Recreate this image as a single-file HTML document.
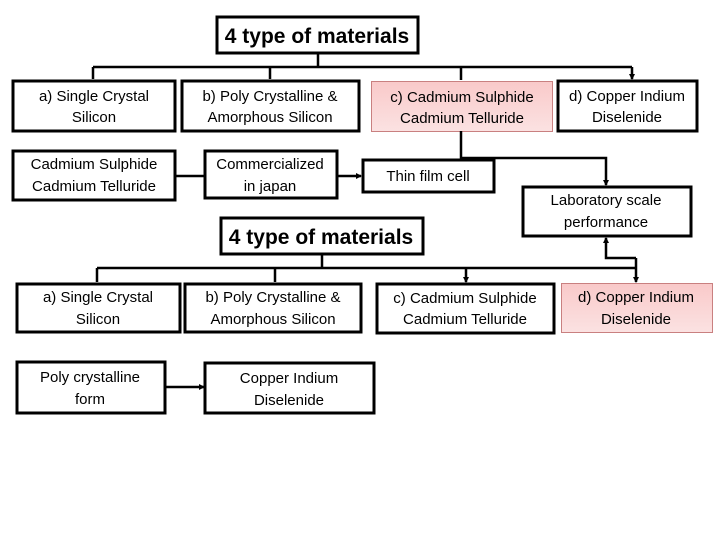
<!DOCTYPE html>
<html><head><meta charset="utf-8"><style>
html,body{margin:0;padding:0;background:#fff;}
svg text{font-family:"Liberation Sans Narrow","Liberation Sans",sans-serif;font-size:15px;fill:#000;text-anchor:middle;}
.t{font-size:21px;font-weight:bold;}
</style></head><body>
<svg width="720" height="540" viewBox="0 0 720 540" xmlns="http://www.w3.org/2000/svg">
<defs>
<linearGradient id="pk" x1="0" y1="0" x2="0" y2="1"><stop offset="0" stop-color="#f9c9c9"/><stop offset="1" stop-color="#fbe2e2"/></linearGradient>
<marker id="a" markerWidth="6" markerHeight="6" refX="5" refY="3" orient="auto" markerUnits="userSpaceOnUse"><path d="M0,0 L6,3 L0,6z" fill="#000"/></marker>
</defs>
<g fill="none" stroke="#000" stroke-width="3">
<rect x="217" y="17" width="201" height="36"/>
<rect x="13" y="81" width="162" height="50"/>
<rect x="182" y="81" width="177" height="50"/>
<rect x="558" y="81" width="139" height="50"/>
<rect x="13" y="151" width="162" height="49"/>
<rect x="205" y="151" width="132" height="47"/>
<rect x="363" y="160" width="131" height="32"/>
<rect x="523" y="187" width="168" height="49"/>
<rect x="221" y="218" width="202" height="36"/>
<rect x="17" y="284" width="163" height="48"/>
<rect x="185" y="284" width="176" height="48"/>
<rect x="377" y="284" width="177" height="49"/>
<rect x="17" y="362" width="148" height="51"/>
<rect x="205" y="363" width="169" height="50"/>
</g>
<rect x="371.5" y="81.5" width="181" height="50" fill="url(#pk)" stroke="#c98080" stroke-width="1"/>
<rect x="561.5" y="283.5" width="151" height="49" fill="url(#pk)" stroke="#c98080" stroke-width="1"/>
<g fill="none" stroke="#000" stroke-width="2.5">
<path d="M318 53V67M93 67H632"/>
<path d="M93 67V79M270 67V79M461 67V80M632 67V79" marker-end="url(#a)"/>
<path d="M461 131V158H606V185" marker-end="url(#a)"/>
<path d="M175 176H204M337 176H361" marker-end="url(#a)"/>
<path d="M322 254V268M97 268H636"/>
<path d="M97 268V282M275 268V282M466 268V282" marker-end="url(#a)"/>
<path d="M636 258V282" marker-end="url(#a)"/>
<path d="M636 258H606V238" marker-end="url(#a)"/>
<path d="M165 387H204" marker-end="url(#a)"/>
</g>
<text class="t" x="317" y="43">4 type of materials</text>
<text x="94" y="101">a) Single Crystal</text><text x="94" y="122">Silicon</text>
<text x="270" y="101">b) Poly Crystalline &amp;</text><text x="270" y="122">Amorphous Silicon</text>
<text x="462" y="102">c) Cadmium Sulphide</text><text x="462" y="123">Cadmium Telluride</text>
<text x="627" y="101">d) Copper Indium</text><text x="627" y="122">Diselenide</text>
<text x="94" y="169">Cadmium Sulphide</text><text x="94" y="191">Cadmium Telluride</text>
<text x="270" y="169">Commercialized</text><text x="270" y="191">in japan</text>
<text x="428" y="181">Thin film cell</text>
<text x="606" y="205">Laboratory scale</text><text x="606" y="227">performance</text>
<text class="t" x="321" y="244">4 type of materials</text>
<text x="98" y="302">a) Single Crystal</text><text x="98" y="324">Silicon</text>
<text x="273" y="302">b) Poly Crystalline &amp;</text><text x="273" y="324">Amorphous Silicon</text>
<text x="465" y="303">c) Cadmium Sulphide</text><text x="465" y="324">Cadmium Telluride</text>
<text x="636" y="302">d) Copper Indium</text><text x="636" y="324">Diselenide</text>
<text x="90" y="382">Poly crystalline</text><text x="90" y="404">form</text>
<text x="289" y="383">Copper Indium</text><text x="289" y="405">Diselenide</text>
</svg>
</body></html>
